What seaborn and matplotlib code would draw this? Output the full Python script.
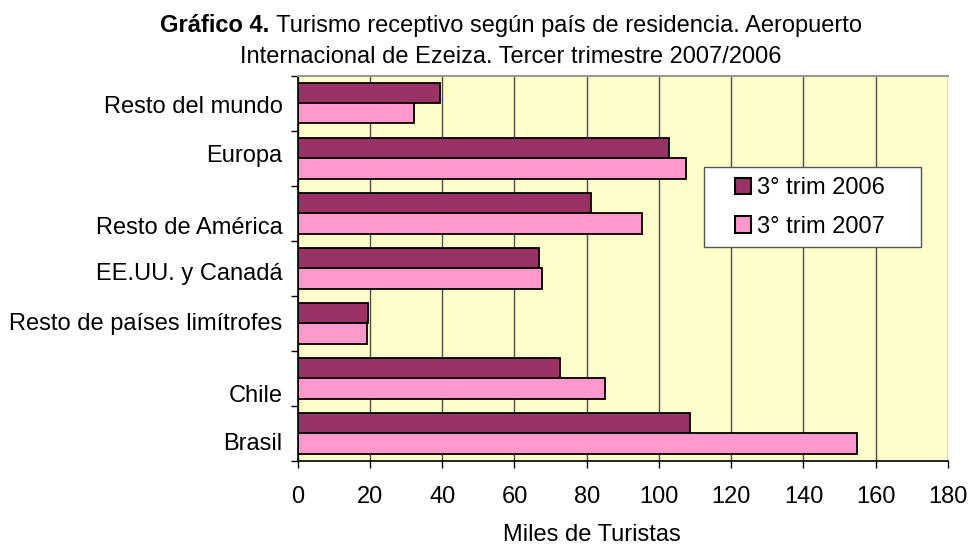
import numpy as np
import pandas as pd
import seaborn as sns
import matplotlib.pyplot as plt
from matplotlib.patches import Patch, Rectangle

# data (miles de turistas)
regions = ["Resto del mundo", "Europa", "Resto de América", "EE.UU. y Canadá",
           "Resto de países limítrofes", "Chile", "Brasil"]
trim_2006 = [39.3, 102.7, 81.3, 66.8, 19.5, 72.5, 108.7]
trim_2007 = [32.1, 107.5, 95.3, 67.5, 19.3, 85.2, 154.8]
series = ["3° trim 2006", "3° trim 2007"]
colors = ["#993366", "#FF99CC"]
xticks = list(range(0, 181, 20))

df = pd.DataFrame({
    "region": regions * 2,
    "serie": [series[0]] * len(regions) + [series[1]] * len(regions),
    "valor": trim_2006 + trim_2007,
})

sns.set_theme(style="white")
plt.rcParams["font.family"] = ["Liberation Sans", "DejaVu Sans"]
plt.rcParams["text.color"] = "black"
plt.rcParams["xtick.color"] = "black"
plt.rcParams["ytick.color"] = "black"

fig = plt.figure(figsize=(9.69, 5.45), dpi=100)
ax = fig.add_axes([0.3072, 0.1541, 0.6711, 0.7073])

sns.barplot(data=df, y="region", x="valor", hue="serie", order=regions,
            hue_order=series, palette=colors, saturation=1, width=0.74,
            edgecolor="black", linewidth=1.3, legend=False, ax=ax)

ax.set_facecolor("#FFFFCC")
ax.set_xlim(0, 180)
ax.set_ylim(len(regions) - 0.5, -0.5)
ax.set_xticks(xticks)
ax.xaxis.grid(True, color="#4d4d4d", lw=1)
ax.set_axisbelow(True)

# excel puts the category labels a bit off-centre
label_shift = [0.03, -0.09, 0.22, 0.05, -0.03, 0.28, 0.14]
ax.set_yticks(np.arange(len(regions)) + np.array(label_shift))
ax.set_yticklabels(regions)
ax.set_yticks(np.arange(-0.5, len(regions), 1), minor=True)
ax.tick_params(axis="y", which="major", length=0, pad=11, labelsize=17)
ax.tick_params(axis="y", which="minor", length=5, width=1, color="black",
               direction="out", left=True)
ax.tick_params(axis="x", length=5, width=1, color="black", direction="out",
               bottom=True, pad=13, labelsize=17)
ax.set_xlabel("")
ax.set_ylabel("")

for s in ["left", "bottom"]:
    ax.spines[s].set_color("black")
    ax.spines[s].set_linewidth(1.2)
ax.spines["top"].set_color("#999999")
ax.spines["top"].set_linewidth(1.5)
ax.spines["right"].set_visible(False)

# legend box drawn separately (excel pads it unevenly)
ax.add_patch(Rectangle((0.625, 0.554), 0.333, 0.21, transform=ax.transAxes,
                       facecolor="white", edgecolor="#555555", lw=1, zorder=5))
handles = [Patch(facecolor=c, edgecolor="black", lw=1.5) for c in colors]
leg = ax.legend(handles, series, loc="center left", bbox_to_anchor=(0.672, 0.657),
                borderaxespad=0, borderpad=0, fontsize=17, frameon=False,
                handlelength=0.7, handleheight=0.7, handletextpad=0.25,
                labelspacing=0.7)
leg.set_zorder(6)

fig.text(592 / 969, 1 - 535 / 545, "Miles de Turistas", ha="center",
         va="center", fontsize=17)

# title: bold lead followed by normal text
fig.canvas.draw()
r = fig.canvas.get_renderer()
cx = 511 / 969
t1b = fig.text(0, 1 - 26 / 545, "Gráfico 4.", fontsize=17, fontweight="bold",
               va="center")
t1n = fig.text(0, 1 - 26 / 545,
               " Turismo receptivo según país de residencia. Aeropuerto",
               fontsize=17, va="center")
wb = t1b.get_window_extent(r).width / fig.bbox.width
wn = t1n.get_window_extent(r).width / fig.bbox.width
x0 = cx - (wb + wn) / 2
t1b.set_x(x0)
t1n.set_x(x0 + wb)
fig.text(cx, 1 - 57 / 545, "Internacional de Ezeiza. Tercer trimestre 2007/2006",
         fontsize=17, ha="center", va="center")

fig.savefig("out.png", dpi=100)
